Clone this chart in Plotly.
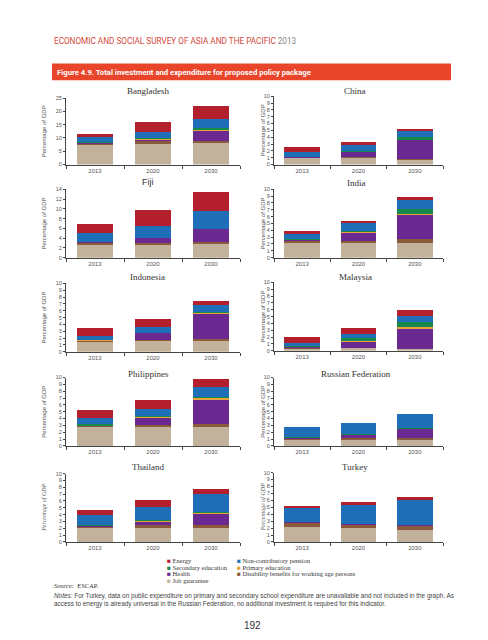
import plotly.graph_objects as go

W, H = 488, 640

years = ["2013", "2020", "2030"]
countries = ["Bangladesh", "China", "Fiji", "India", "Indonesia", "Malaysia",
             "Philippines", "Russian Federation", "Thailand", "Turkey"]
y_max = [25, 10, 14, 10, 10, 10, 10, 10, 10, 10]
y_dtick = [5, 1, 2, 1, 1, 1, 1, 1, 1, 1]

# series values: one row per country, columns = years (percentage of GDP)
job_guarantee = [[7.3, 7.7, 8.1], [0.95, 1.0, 0.78], [2.5, 2.5, 2.7], [2.2, 2.2, 2.2],
                 [1.5, 1.6, 1.6], [0.3, 0.35, 0.2], [2.7, 2.8, 2.8], [0.95, 0.95, 0.8],
                 [2.2, 2.2, 2.2], [2.1, 1.95, 1.7]]
disability = [[0.7, 1.0, 0.9], [0.05, 0.05, 0.05], [0.6, 0.6, 0.6], [0.3, 0.3, 0.5],
              [0.1, 0.15, 0.3], [0.15, 0.1, 0.1], [0.35, 0.3, 0.4], [0.2, 0.2, 0.4],
              [0.1, 0.25, 0.25], [0.7, 0.65, 0.7]]
health = [[0.1, 0.8, 3.7], [0.1, 0.85, 2.75], [0.05, 0.9, 2.55], [0.05, 1.2, 3.5],
          [0.05, 1.0, 3.6], [0.1, 0.9, 2.9], [0.05, 1.15, 3.7], [0.15, 0.6, 1.4],
          [0.15, 0.65, 1.75], [0.05, 0.05, 0.05]]
primary_edu = [[0.1, 0.1, 0.2], [0.02, 0.02, 0.05], [0.02, 0.02, 0.02], [0.05, 0.05, 0.2],
               [0.02, 0.02, 0.15], [0.05, 0.15, 0.25], [0.02, 0.1, 0.2], [0.02, 0.02, 0.02],
               [0.02, 0.1, 0.1], [0, 0, 0]]
secondary_edu = [[0.2, 0.3, 0.8], [0.05, 0.1, 0.45], [0.03, 0.05, 0.05], [0.15, 0.2, 0.75],
                 [0.1, 0.05, 0.1], [0.15, 0.4, 0.75], [0.05, 0.05, 0.05], [0.02, 0.03, 0.03],
                 [0.03, 0.05, 0.1], [0, 0, 0]]
pension = [[1.8, 2.3, 3.5], [0.6, 0.9, 0.8], [1.9, 2.5, 3.7], [0.75, 1.1, 1.25],
           [0.6, 0.85, 1.05], [0.35, 0.5, 0.85], [0.85, 0.95, 1.4], [1.4, 1.6, 2.05],
           [1.45, 1.9, 2.65], [2.15, 2.7, 3.65]]
energy = [[1.2, 4.0, 5.0], [0.85, 0.45, 0.3], [1.8, 3.2, 3.85], [0.4, 0.35, 0.5],
          [1.1, 1.15, 0.7], [0.85, 0.95, 0.85], [1.2, 1.3, 1.3], [0, 0, 0],
          [0.7, 1.05, 0.75], [0.25, 0.35, 0.45]]

# stacking order bottom -> top
series = [
    ("Job guarantee", job_guarantee, "#c3b29b"),
    ("Disability benefits for working age persons", disability, "#8b5a3c"),
    ("Health", health, "#6a2990"),
    ("Primary education", primary_edu, "#e9a23c"),
    ("Secondary education", secondary_edu, "#17894b"),
    ("Non-contributory pension", pension, "#1e6fb7"),
    ("Energy", energy, "#b41f2e"),
]

# panel geometry in pixels: (x_left, x_right, y_top, y_bottom)
left_x = (58, 232)
right_x = (266, 435)
rows_y = [((88, 155), (86, 155)), ((180, 249), (180, 249)), ((275, 344), (274, 343)),
          ((370, 439), (370, 439)), ((467, 536), (466, 536))]
title_pos = [(140, 81), (347, 81), (140, 173), (348, 174), (139, 269), (347, 269),
             (140, 366), (348, 366), (140, 460), (347, 460)]
ylab_x = [36, 255]

def px(x):
    return x / W

def py(y):
    return 1 - y / H

fig = go.Figure()
annotations = []
layout_axes = {}

for i, c in enumerate(countries):
    r, col = divmod(i, 2)
    xl, xr = left_x if col == 0 else right_x
    yt, yb = rows_y[r][col]
    n = i + 1
    xa = "x" if n == 1 else f"x{n}"
    ya = "y" if n == 1 else f"y{n}"
    for name, data, color in series:
        fig.add_trace(go.Bar(
            x=years, y=data[i], name=name, marker=dict(color=color, line=dict(width=0)),
            width=0.63, xaxis=xa, yaxis=ya, showlegend=False,
        ))
    layout_axes["xaxis" if n == 1 else f"xaxis{n}"] = dict(
        domain=[px(xl), px(xr)], anchor=ya, type="category",
        showline=True, linecolor="#444", linewidth=1, showgrid=False,
        ticks="outside", tickson="boundaries", ticklen=3, tickcolor="#444",
        tickfont=dict(family="Liberation Sans", size=6, color="#555"),
        fixedrange=True,
    )
    layout_axes["yaxis" if n == 1 else f"yaxis{n}"] = dict(
        domain=[py(yb), py(yt)], anchor=xa, range=[0, y_max[i]], dtick=y_dtick[i],
        showline=True, linecolor="#444", linewidth=1, showgrid=False, zeroline=False,
        ticks="outside", ticklen=2, tickcolor="#444",
        tickfont=dict(family="Liberation Sans", size=5.5, color="#555"),
        fixedrange=True,
    )
    tx, ty = title_pos[i]
    annotations.append(dict(
        x=px(tx), y=py(ty), xref="paper", yref="paper", text=c, showarrow=False,
        font=dict(family="Liberation Serif" if c != "Fiji" else "Liberation Sans",
                  size=9, color="#333"),
        xanchor="center", yanchor="middle",
    ))
    italic = c in ("Thailand", "Turkey")
    annotations.append(dict(
        x=px(ylab_x[col]), y=py((yt + yb) / 2), xref="paper", yref="paper",
        text="<i>Percentage of GDP</i>" if italic else "Percentage of GDP",
        textangle=-90, showarrow=False,
        font=dict(family="Liberation Serif" if italic else "Liberation Sans", size=6, color="#555"),
        xanchor="center", yanchor="middle",
    ))

# legend (two columns)
legend_items = [("Energy", "#b41f2e", 157, 555), ("Secondary education", "#17894b", 157, 561.5),
                ("Health", "#6a2990", 157, 568), ("Job guarantee", "#c3b29b", 157, 574.5),
                ("Non-contributory pension", "#1e6fb7", 227, 555),
                ("Primary education", "#e9a23c", 227, 561.5),
                ("Disability benefits for working age persons", "#8b5a3c", 227, 568)]
for label, color, lx, ly in legend_items:
    annotations.append(dict(
        x=px(lx), y=py(ly), xref="paper", yref="paper", showarrow=False,
        text=f'<span style="color:{color}">■</span> {label}',
        font=dict(family="Liberation Serif", size=6.5, color="#333"),
        xanchor="left", yanchor="middle",
    ))

# header
annotations.append(dict(
    x=px(44), y=py(30), xref="paper", yref="paper", showarrow=False,
    text='ECONOMIC AND SOCIAL SURVEY OF ASIA AND THE PACIFIC <span style="color:#888">2013</span>',
    font=dict(family="Roboto", size=8.2, color="#d4483a"), xanchor="left", yanchor="middle",
))
annotations.append(dict(
    x=px(47), y=py(62), xref="paper", yref="paper", showarrow=False,
    text="<b>Figure 4.9. Total investment and expenditure for proposed policy package</b>",
    font=dict(family="Roboto", size=7.7, color="white"), xanchor="left", yanchor="middle",
))
annotations.append(dict(
    x=px(44), y=py(580), xref="paper", yref="paper", showarrow=False,
    text="<i>Source:</i>  ESCAP.",
    font=dict(family="Liberation Serif", size=6.5, color="#333"), xanchor="left", yanchor="middle",
))
annotations.append(dict(
    x=px(44), y=py(595), xref="paper", yref="paper", showarrow=False, align="left",
    text=("<i>Notes:</i> For Turkey, data on public expenditure on primary and secondary school "
          "expenditure are unavailable and not included in the graph. As<br>"
          "access to energy is already universal in the Russian Federation, no additional "
          "investment is required for this indicator."),
    font=dict(family="Liberation Sans", size=6.4, color="#444"), xanchor="left", yanchor="middle",
))
annotations.append(dict(
    x=px(244), y=py(620), xref="paper", yref="paper", showarrow=False, text="192",
    font=dict(family="Liberation Sans", size=10, color="#333"), xanchor="center", yanchor="middle",
))

shapes = [dict(type="rect", xref="paper", yref="paper", x0=px(44), x1=px(443),
               y0=py(70), y1=py(53), fillcolor="#e8452b", line=dict(width=0), layer="below")]

fig.update_layout(
    width=W, height=H, margin=dict(l=0, r=0, t=0, b=0),
    paper_bgcolor="white", plot_bgcolor="white", barmode="stack",
    showlegend=False, annotations=annotations, shapes=shapes, **layout_axes,
)

fig.write_html("out.html")
